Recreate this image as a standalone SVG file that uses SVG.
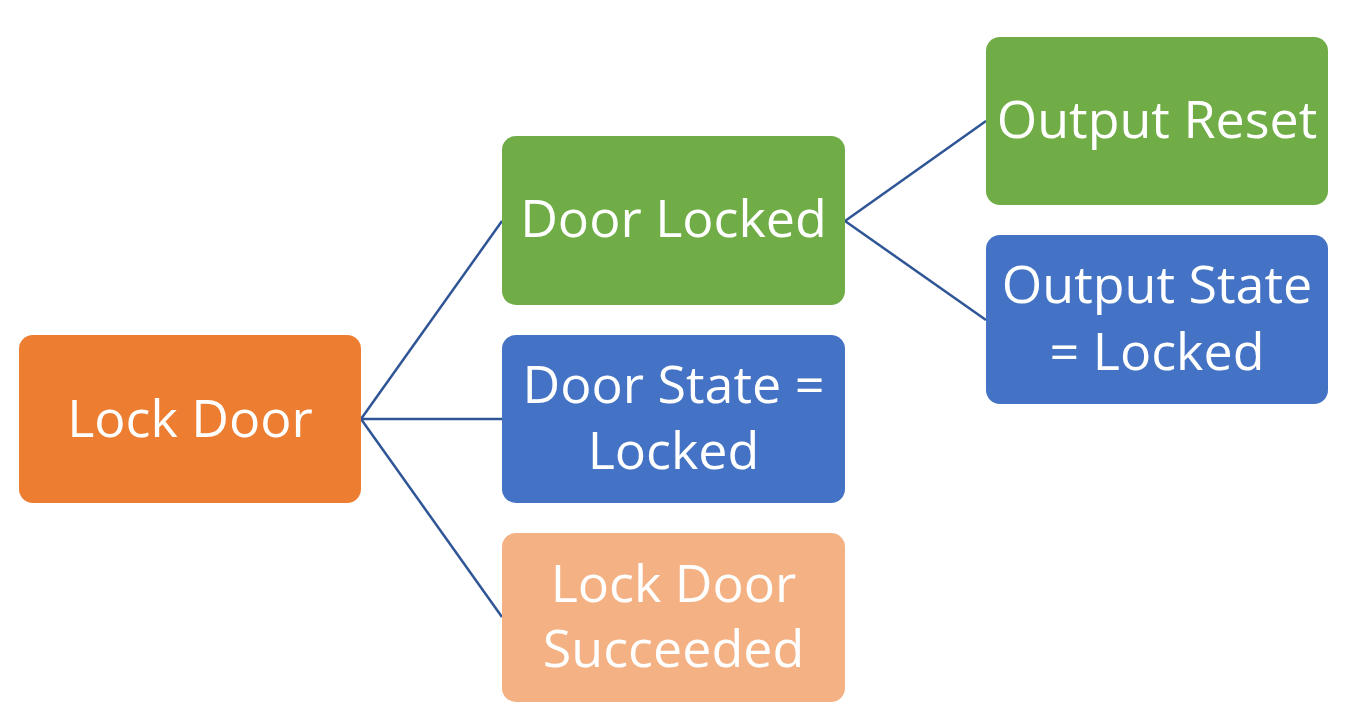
<svg xmlns="http://www.w3.org/2000/svg" width="1351" height="721" viewBox="0 0 1351 721">
<style>
.box{stroke:none}
.t{font-family:"Open Sans","Liberation Sans",sans-serif;font-size:52px;fill:#ffffff;text-anchor:middle}
.c{stroke:#2F5597;stroke-width:2.5;fill:none}
</style>
<rect width="1351" height="721" fill="#ffffff"/>
<g id="connectors">
<line class="c" x1="361" y1="419" x2="502" y2="221"/>
<line class="c" x1="361" y1="419" x2="502" y2="419"/>
<line class="c" x1="361" y1="419" x2="502" y2="617"/>
<line class="c" x1="845" y1="221" x2="986" y2="121"/>
<line class="c" x1="845" y1="221" x2="986" y2="320"/>
</g>
<g id="lock-door">
<rect class="box" x="19" y="335" width="342" height="168" rx="14" fill="#ED7D31"/>
<text class="t" x="190" y="437">Lock Door</text>
</g>
<g id="door-locked">
<rect class="box" x="502" y="136" width="343" height="169" rx="14" fill="#70AD47"/>
<text class="t" x="673.5" y="237">Door Locked</text>
</g>
<g id="door-state">
<rect class="box" x="502" y="335" width="343" height="168" rx="14" fill="#4472C4"/>
<text class="t" x="673.5" y="403">Door State =</text>
<text class="t" x="673.5" y="469">Locked</text>
</g>
<g id="lock-door-succeeded">
<rect class="box" x="502" y="533" width="343" height="169" rx="14" fill="#F4B183"/>
<text class="t" x="673.5" y="602">Lock Door</text>
<text class="t" x="673.5" y="667">Succeeded</text>
</g>
<g id="output-reset">
<rect class="box" x="986" y="37" width="342" height="168" rx="14" fill="#70AD47"/>
<text class="t" x="1157" y="138">Output Reset</text>
</g>
<g id="output-state">
<rect class="box" x="986" y="235" width="342" height="169" rx="14" fill="#4472C4"/>
<text class="t" x="1157" y="303">Output State</text>
<text class="t" x="1157" y="370">= Locked</text>
</g>
</svg>
